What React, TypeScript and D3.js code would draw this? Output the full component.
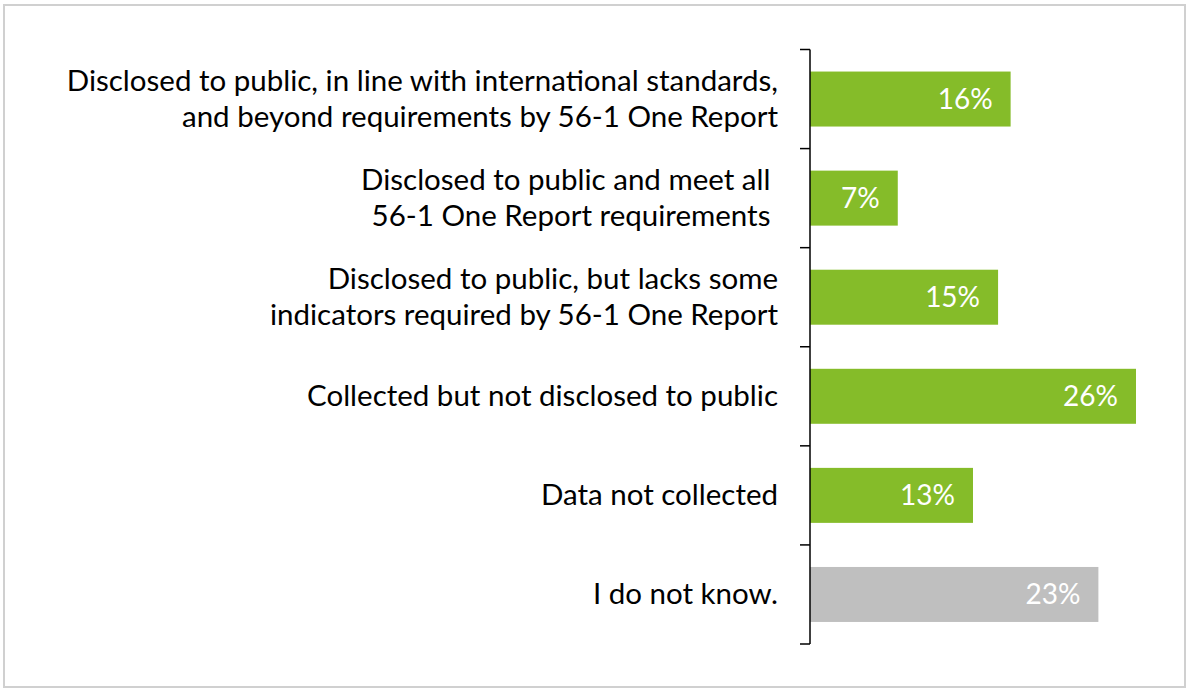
import React from "react";
import * as d3 from "d3";

const categories: string[][] = [
  ["Disclosed to public, in line with international standards,", "and beyond requirements by 56-1 One Report"],
  ["Disclosed to public and meet all ", "56-1 One Report requirements "],
  ["Disclosed to public, but lacks some", "indicators required by 56-1 One Report"],
  ["Collected but not disclosed to public"],
  ["Data not collected"],
  ["I do not know."],
];
const values: number[] = [16, 7, 15, 26, 13, 23];
const colors: string[] = ["#85BC29", "#85BC29", "#85BC29", "#85BC29", "#85BC29", "#BFBFBF"];

const W = 1191;
const H = 692;
const axisX = 810;
const top = 49.5;
const bottom = 644;
const FONT = "Lato, 'Open Sans', sans-serif";

export default function App() {
  const idx = categories.map((_, i) => String(i));
  const y = d3.scaleBand<string>().domain(idx).range([top, bottom]).paddingInner(0.445).paddingOuter(0.2225);
  const x = d3.scaleLinear().domain([0, 26]).range([axisX, 1136]);
  const ticks = d3.range(categories.length + 1).map((i) => top + (i * (bottom - top)) / categories.length);
  return (
    <svg width={W} height={H} style={{ position: "absolute", left: 0, top: 0 }} fontFamily={FONT}>
      <rect x={0} y={0} width={W} height={H} fill="#fff" />
      <rect x={4} y={5} width={1181} height={682} fill="none" stroke="#D0D0D0" strokeWidth={2} />
      {values.map((v, i) => {
        const yy = y(String(i))!;
        const bw = y.bandwidth();
        const c = yy + bw / 2;
        return (
          <g key={i}>
            <rect x={x(0)} y={yy} width={x(v) - x(0)} height={bw} fill={colors[i]} />
            <text x={x(v) - 18} y={c + 10} textAnchor="end" fill="#fff" fontSize={28}>
              {v}%
            </text>
            {categories[i].map((line, j) => {
              const n = categories[i].length;
              const by = c + 10 + (j - (n - 1) / 2) * 36;
              return (
                <text key={j} x={778} y={by} textAnchor="end" fill="#000" fontSize={29.5} style={{ whiteSpace: "pre" }}>
                  {line}
                </text>
              );
            })}
          </g>
        );
      })}
      <line x1={axisX} x2={axisX} y1={top} y2={bottom} stroke="#000" strokeWidth={1.5} />
      {ticks.map((t, i) => (
        <line key={i} x1={axisX - 10} x2={axisX} y1={t} y2={t} stroke="#000" strokeWidth={1.5} />
      ))}
    </svg>
  );
}
